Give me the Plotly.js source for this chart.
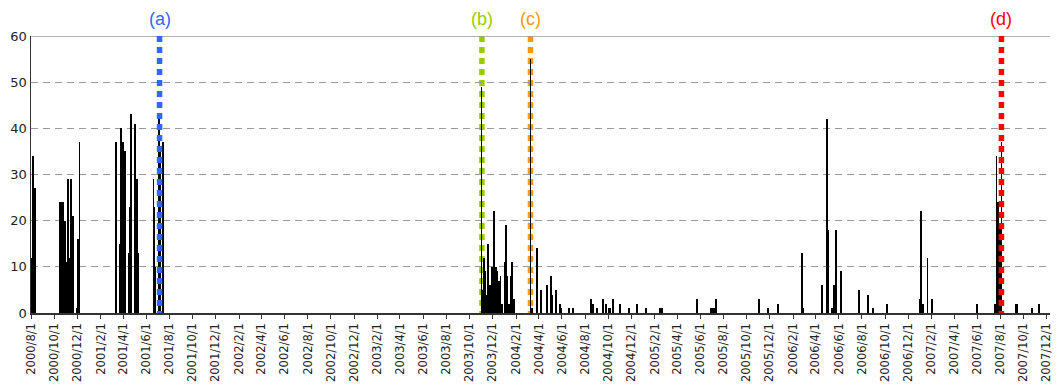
<!DOCTYPE html>
<html>
<head>
<meta charset="utf-8">
<script src="https://cdn.plot.ly/plotly-3.0.1.min.js"></script>
<style>
  html, body { margin: 0; padding: 0; background: #fff; }
  #chart { width: 1058px; height: 388px; }
</style>
</head>
<body>
<div id="chart"></div>
<script>
// Daily values
const dates = [
  '2000-08-02','2000-08-04','2000-08-07','2000-08-11',
  '2000-10-17','2000-10-20','2000-10-24','2000-10-29','2000-11-02','2000-11-06','2000-11-11','2000-11-15','2000-11-20',
  '2000-12-01','2000-12-03','2000-12-07',
  '2001-03-12','2001-03-13','2001-03-23','2001-03-27','2001-03-31','2001-04-04','2001-04-06','2001-04-17','2001-04-20','2001-04-21',
  '2001-05-03','2001-05-07','2001-05-11',
  '2001-06-20','2001-06-21','2001-06-24','2001-07-04','2001-07-07','2001-07-16',
  '2003-11-02','2003-11-06','2003-11-08','2003-11-12','2003-11-16','2003-11-20','2003-11-25','2003-11-29',
  '2003-12-04','2003-12-10','2003-12-14','2003-12-18','2003-12-22','2003-12-26',
  '2004-01-02','2004-01-05','2004-01-09','2004-01-13','2004-01-18','2004-01-22','2004-01-26',
  '2004-03-10','2004-03-14','2004-03-27','2004-04-06','2004-04-22','2004-05-02','2004-05-07','2004-05-16','2004-05-27','2004-05-30',
  '2004-06-20','2004-06-30','2004-08-17','2004-08-21','2004-09-02','2004-09-17','2004-09-25','2004-10-02','2004-10-06','2004-10-13',
  '2004-11-01','2004-11-25','2004-12-17','2005-01-09','2005-02-14','2005-02-19','2005-05-23','2005-06-28','2005-07-03','2005-07-08','2005-07-12',
  '2005-11-03','2005-11-27','2005-12-22',
  '2006-02-24','2006-02-28','2006-04-17','2006-04-30','2006-05-04','2006-05-15','2006-05-20','2006-05-24','2006-06-06',
  '2006-07-24','2006-08-18','2006-08-31','2006-10-07','2006-12-31',
  '2007-01-03','2007-01-10','2007-01-21','2007-02-03','2007-06-01',
  '2007-07-17','2007-07-22','2007-07-27','2007-07-31','2007-08-04',
  '2007-09-11','2007-09-13','2007-10-23','2007-11-11'
];
const values = [
  12,10,34,27,
  24,24,24,20,11,29,12,29,21,
  1,16,37,
  37,23,15,40,37,28,35,13,23,43,
  41,29,13,
  29,23,10,42,36,37,
  49,5,12,9,4,15,6,10,
  22,10,9,7,8,2,
  11,19,8,2,8,11,3,
  55,1,14,5,6,8,4,5,2,1,
  1,1,3,2,1,3,2,1,1,3,
  2,1,2,1,1,1,3,1,1,1,3,
  3,1,2,
  13,1,6,42,18,1,6,18,9,
  5,4,1,2,3,
  22,2,12,3,2,
  2,34,24,19,37,
  2,2,1,2
];

// Tick labels (every two months)
const tickDates = [
  '2000-08-01','2000-10-01','2000-12-01','2001-02-01','2001-04-01','2001-06-01','2001-08-01','2001-10-01','2001-12-01',
  '2002-02-01','2002-04-01','2002-06-01','2002-08-01','2002-10-01','2002-12-01',
  '2003-02-01','2003-04-01','2003-06-01','2003-08-01','2003-10-01','2003-12-01',
  '2004-02-01','2004-04-01','2004-06-01','2004-08-01','2004-10-01','2004-12-01',
  '2005-02-01','2005-04-01','2005-06-01','2005-08-01','2005-10-01','2005-12-01',
  '2006-02-01','2006-04-01','2006-06-01','2006-08-01','2006-10-01','2006-12-01',
  '2007-02-01','2007-04-01','2007-06-01','2007-08-01','2007-10-01','2007-12-01'
];
const tickLabels = [
  '2000/8/1','2000/10/1','2000/12/1','2001/2/1','2001/4/1','2001/6/1','2001/8/1','2001/10/1','2001/12/1',
  '2002/2/1','2002/4/1','2002/6/1','2002/8/1','2002/10/1','2002/12/1',
  '2003/2/1','2003/4/1','2003/6/1','2003/8/1','2003/10/1','2003/12/1',
  '2004/2/1','2004/4/1','2004/6/1','2004/8/1','2004/10/1','2004/12/1',
  '2005/2/1','2005/4/1','2005/6/1','2005/8/1','2005/10/1','2005/12/1',
  '2006/2/1','2006/4/1','2006/6/1','2006/8/1','2006/10/1','2006/12/1',
  '2007/2/1','2007/4/1','2007/6/1','2007/8/1','2007/10/1','2007/12/1'
];

// Event markers
const eventLabels = ['(a)','(b)','(c)','(d)'];
const eventDates = ['2001-07-06','2003-11-03','2004-03-10','2007-08-04'];
const eventColors = ['#3366ff','#99cc00','#ff9900','#ff0000'];
const eventAbove = [true, false, false, true];

const DAY = 86400000;

const trace = {
  type: 'bar',
  x: dates,
  y: values,
  width: dates.map(() => 5 * DAY),
  marker: { color: '#000000', line: { width: 0 } },
  hoverinfo: 'x+y'
};

const shapes = [
  { type: 'line', xref: 'paper', x0: 0, x1: 1, yref: 'y', y0: 60, y1: 60,
    line: { color: '#999999', width: 1.5 }, layer: 'above' }
];
const annotations = [];
eventDates.forEach((d, i) => {
  shapes.push({
    type: 'line', xref: 'x', x0: d, x1: d, yref: 'y', y0: 60, y1: 0,
    line: { color: eventColors[i], width: 5.5, dash: '6px,5px' },
    layer: eventAbove[i] ? 'above' : 'below'
  });
  annotations.push({
    x: d, xref: 'x', y: 60, yref: 'y', yanchor: 'bottom', yshift: 5,
    text: eventLabels[i], showarrow: false,
    font: { family: 'Liberation Sans, Arial, sans-serif', size: 18, color: eventColors[i] }
  });
});

const layout = {
  width: 1058, height: 388,
  margin: { l: 31, r: 8, t: 36, b: 75 },
  paper_bgcolor: '#ffffff', plot_bgcolor: '#ffffff',
  showlegend: false,
  bargap: 0,
  xaxis: {
    type: 'date',
    range: ['2000-08-01', '2007-12-10'],
    tickmode: 'array', tickvals: tickDates, ticktext: tickLabels,
    tickangle: -90,
    ticks: 'outside', ticklen: 4, tickcolor: '#333333', tickwidth: 1,
    showline: true, linecolor: '#333333', linewidth: 1.5,
    showgrid: false, zeroline: false,
    tickfont: { family: 'DejaVu Sans, sans-serif', size: 11.5, color: '#222222' }
  },
  yaxis: {
    range: [0, 60],
    tickmode: 'array', tickvals: [0,10,20,30,40,50,60],
    ticks: '', showline: true, linecolor: '#333333', linewidth: 1.5,
    showgrid: true, gridcolor: '#999999', gridwidth: 1, griddash: '7px,5px',
    zeroline: false,
    tickfont: { family: 'DejaVu Sans, sans-serif', size: 13, color: '#222222' }
  },
  shapes: shapes,
  annotations: annotations
};

Plotly.newPlot('chart', [trace], layout, { displayModeBar: false, staticPlot: true });
</script>
</body>
</html>
